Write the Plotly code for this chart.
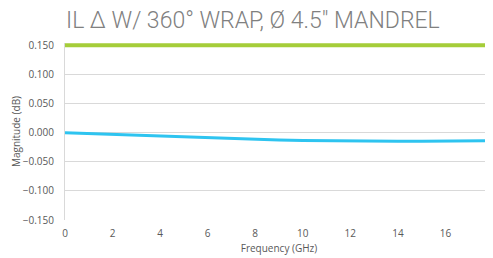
import plotly.graph_objects as go

freq_ghz = [0, 1, 2, 3, 4, 5, 6, 7, 8, 9, 10, 11, 12, 13, 14, 15, 16, 17, 18]
il_delta_db = [0.000, -0.0015, -0.003, -0.0045, -0.006, -0.0075, -0.009, -0.0105, -0.0117,
               -0.0127, -0.0135, -0.0141, -0.0145, -0.0148, -0.0149, -0.0148, -0.0146, -0.0141, -0.0137]
limit_db = [0.150] * len(freq_ghz)
x_ticks = [0, 2, 4, 6, 8, 10, 12, 14, 16, 18]

fig = go.Figure()
fig.add_trace(go.Scatter(x=freq_ghz, y=limit_db, mode="lines",
                         line=dict(color="#A5CD39", width=4), showlegend=False))
fig.add_trace(go.Scatter(x=freq_ghz, y=il_delta_db, mode="lines",
                         line=dict(color="#2EC4F0", width=3), showlegend=False))

tick_font = dict(family="Open Sans, Liberation Sans, sans-serif", size=10, color="#595959")
fig.update_layout(
    width=493, height=250,
    margin=dict(l=57, r=8, t=34.7, b=38),
    paper_bgcolor="white", plot_bgcolor="white",
    title=dict(text="IL \u0394 W/ 360\u00b0 WRAP, \u00d8 4.5\" MANDREL",
               x=58 / 493, xanchor="left", y=0.985, yanchor="top",
               font=dict(family="Roboto, Open Sans, sans-serif", size=23, weight=300,
                         color="#808080")),
    xaxis=dict(range=[0, 18.0005], tickmode="array", tickvals=x_ticks,
               ticktext=[str(v) for v in x_ticks], showgrid=False, zeroline=False,
               showline=False, ticks="", tickfont=tick_font, automargin=False,
               ticklabeloverflow="allow", ticklabelstandoff=6,
               title=dict(text="Frequency (GHz)", font=tick_font, standoff=5)),
    yaxis=dict(range=[-0.15, 0.154], tick0=-0.15, dtick=0.05, tickformat=".3f",
               showgrid=True, gridcolor="#D9D9D9", gridwidth=1, zeroline=False,
               showline=True, linecolor="#D9D9D9", linewidth=1, ticks="",
               tickfont=tick_font, automargin=False, ticklabelstandoff=8,
               title=dict(text="Magnitude (dB)", font=tick_font, standoff=0)),
)
fig.write_html("out.html")
